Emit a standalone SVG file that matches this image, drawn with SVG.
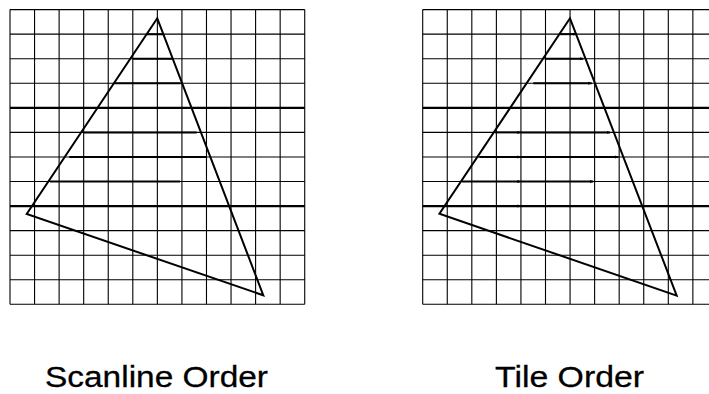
<svg xmlns="http://www.w3.org/2000/svg" xmlns:xlink="http://www.w3.org/1999/xlink" width="709" height="394" viewBox="0 0 709 394">
<style>
.g{stroke:#000;stroke-width:1.1;fill:none}
.gt{stroke:#000;stroke-width:2.2;fill:none}
.tri{stroke:#000;stroke-width:2;fill:none;stroke-linejoin:miter}
.sc{stroke:#000;stroke-width:2;fill:none}
.lbl{font-family:"Liberation Sans",Arial,sans-serif;font-size:30px;fill:#000;stroke:#000;stroke-width:0.3}
</style>
<defs>
<marker id="ah" markerWidth="4" markerHeight="4" refX="3.5" refY="2" orient="auto" markerUnits="userSpaceOnUse">
<path d="M0,0.5 L4,2 L0,3.5 Z" fill="#000"/>
</marker>
<g id="grid">
<path class="g" d="M10,9.6V304.32M34.56,9.6V304.32M59.12,9.6V304.32M83.68,9.6V304.32M108.24,9.6V304.32M132.8,9.6V304.32M157.36,9.6V304.32M181.92,9.6V304.32M206.48,9.6V304.32M231.04,9.6V304.32M255.6,9.6V304.32M280.16,9.6V304.32M304.72,9.6V304.32"/>
<path class="g" d="M10,9.6H304.72M10,34.16H304.72M10,58.72H304.72M10,83.28H304.72M10,132.4H304.72M10,156.96H304.72M10,181.52H304.72M10,230.64H304.72M10,255.2H304.72M10,279.76H304.72M10,304.32H304.72"/>
<path class="gt" d="M10,107.84H304.72M10,206.08H304.72"/>
</g>
</defs>
<g id="scanline-order">
<use xlink:href="#grid"/>
<g id="scanline-spans">
<path class="sc" d="M147,34.16H163M132.8,58.72H172.7M113.5,83.28H180.7M83.3,132.4H196.7M69.3,156.96H206.7M50,181.52H180"/>
</g>
<polygon class="tri" points="157.3,18.3 26.7,214 263.3,295.3"/>
</g>
<g id="tile-order" transform="translate(412.7,0)">
<use xlink:href="#grid"/>
</g>
<g id="tile-spans">
<path class="sc" marker-end="url(#ah)" d="M560,34.16H576"/>
<path class="sc" marker-end="url(#ah)" d="M545,58.72H583.3"/>
<path class="sc" marker-end="url(#ah)" d="M533.3,83.28H591.7"/>
<path class="sc" marker-end="url(#ah)" d="M495,132.4H520.9"/>
<path class="sc" marker-end="url(#ah)" d="M520.9,132.4H610"/>
<path class="sc" marker-end="url(#ah)" d="M479.3,156.96H520.9"/>
<path class="sc" marker-end="url(#ah)" d="M520.9,156.96H618.3"/>
<path class="sc" marker-end="url(#ah)" d="M462,181.52H520.9"/>
<path class="sc" marker-end="url(#ah)" d="M520.9,181.52H593.3"/>
<path class="sc" marker-end="url(#ah)" d="M450,206.08H520.9"/>
</g>
<polygon id="tile-triangle" class="tri" points="570,18.3 439.4,213.8 676.7,295.6"/>
<g id="labels">
<text id="label-scanline" class="lbl" x="45" y="387" textLength="223" lengthAdjust="spacingAndGlyphs">Scanline Order</text>
<text id="label-tile" class="lbl" x="495" y="387" textLength="149" lengthAdjust="spacingAndGlyphs">Tile Order</text>
</g>
</svg>
